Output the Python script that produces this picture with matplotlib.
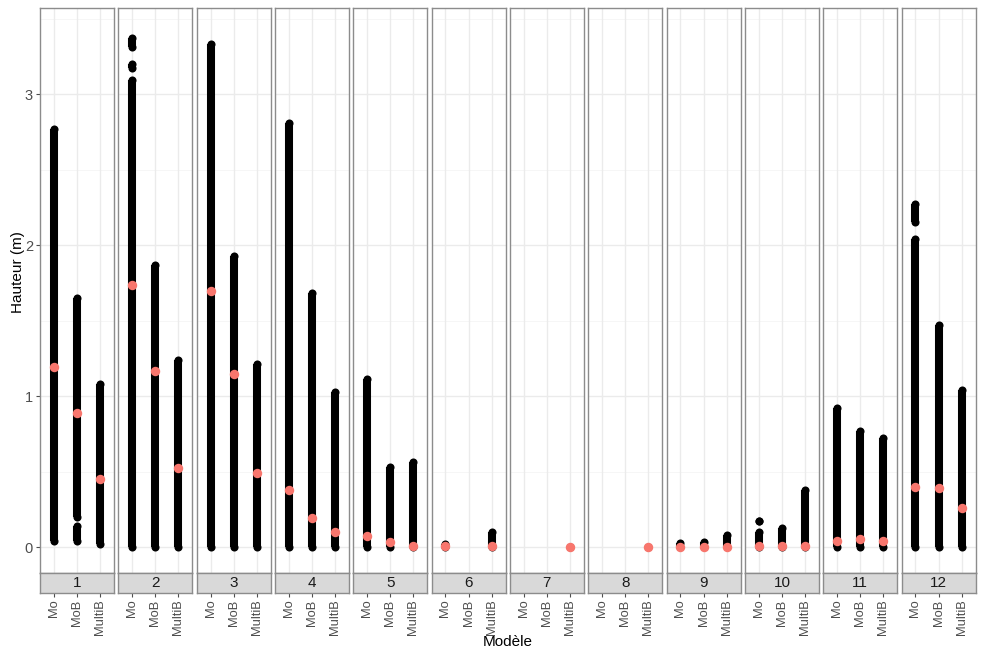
import matplotlib
matplotlib.use("Agg")
import matplotlib.pyplot as plt
import numpy as np

plt.rcParams['font.family'] = ['Liberation Sans', 'DejaVu Sans']

# ---- data ----
panels = ['1', '2', '3', '4', '5', '6', '7', '8', '9', '10', '11', '12']
models = ['Mo', 'MoB', 'MultiB']

# observed value ranges (min, max) of the dense point columns, per panel
seg_mo = [
    [(0.04, 2.77)],
    [(0.0, 3.09), (3.17, 3.20), (3.31, 3.37)],
    [(0.0, 3.33)],
    [(0.0, 2.81)],
    [(0.0, 1.11)],
    [(0.0, 0.02)],
    [],
    [],
    [(0.0, 0.03)],
    [(0.0, 0.10), (0.17, 0.17)],
    [(0.0, 0.92)],
    [(0.0, 2.04), (2.15, 2.27)],
]
seg_mob = [
    [(0.04, 0.14), (0.20, 1.65)],
    [(0.0, 1.87)],
    [(0.0, 1.93)],
    [(0.0, 1.68)],
    [(0.0, 0.53)],
    [],
    [],
    [],
    [(0.0, 0.035)],
    [(0.0, 0.125)],
    [(0.0, 0.77)],
    [(0.0, 1.47)],
]
seg_multib = [
    [(0.02, 1.08)],
    [(0.0, 1.24)],
    [(0.0, 1.21)],
    [(0.0, 1.03)],
    [(0.0, 0.56)],
    [(0.0, 0.10)],
    [(0.0, 0.0)],
    [(0.0, 0.0)],
    [(0.0, 0.08)],
    [(0.0, 0.38)],
    [(0.0, 0.72)],
    [(0.0, 1.04)],
]
nan = np.nan
mean_mo = [1.19, 1.735, 1.695, 0.377, 0.075, 0.01, nan, nan, 0.003, 0.005, 0.04, 0.40]
mean_mob = [0.89, 1.166, 1.146, 0.19, 0.033, nan, nan, nan, 0.003, 0.005, 0.055, 0.39]
mean_multib = [0.45, 0.523, 0.49, 0.10, 0.007, 0.005, 0.0, 0.0, 0.002, 0.005, 0.04, 0.26]

yticks = [0, 1, 2, 3]

# ---- layout ----
W, H = 982, 650
fig = plt.figure(figsize=(W / 100, H / 100), dpi=100)
left, right = 40, 975.5
top, pbot = 8, 573
sbot = 593
gap = 4.4
n = len(panels)
pw = (right - left - gap * (n - 1)) / n

border_col = '#8C8C8C'
grid_major = '#EBEBEB'
grid_minor = '#F5F5F5'
black_lw = 5.8
red = '#F8766D'

segs_all = [seg_mo, seg_mob, seg_multib]
means_all = [mean_mo, mean_mob, mean_multib]

for i, p in enumerate(panels):
    x0 = left + i * (pw + gap)
    ax = fig.add_axes([x0 / W, (H - pbot) / H, pw / W, (pbot - top) / H])
    ax.set_xlim(0.4, 3.6)
    ax.set_ylim(-0.172, 3.57)
    for yv in [0.5, 1.5, 2.5, 3.5]:
        ax.axhline(yv, color=grid_minor, lw=0.6, zorder=0)
    for yv in yticks:
        ax.axhline(yv, color=grid_major, lw=1.0, zorder=0)
    for xv in [1, 2, 3]:
        ax.axvline(xv, color=grid_major, lw=1.0, zorder=0)
    for k in range(3):
        xk = k + 1
        for (a, b) in segs_all[k][i]:
            ax.plot([xk, xk], [a, b], color='black', lw=black_lw,
                    solid_capstyle='butt', zorder=2)
            ax.plot([xk, xk], [a, b], 'o', color='black', ms=black_lw,
                    mew=0, zorder=2)
        mv = means_all[k][i]
        if not np.isnan(mv):
            ax.plot([xk], [mv], 'o', color=red, ms=6.8, mew=0, zorder=3)
    ax.set_xticks([])
    if i == 0:
        ax.set_yticks(yticks)
        ax.set_yticklabels([str(v) for v in yticks], fontsize=10.5, color='#4D4D4D')
        ax.tick_params(axis='y', length=3, width=0.8, color='#4D4D4D', pad=2)
    else:
        ax.set_yticks([])
    for s in ax.spines.values():
        s.set_color(border_col)
        s.set_linewidth(1.0)

    # strip
    sax = fig.add_axes([x0 / W, (H - sbot) / H, pw / W, (sbot - pbot) / H])
    sax.set_facecolor('#D9D9D9')
    sax.set_xlim(0.4, 3.6)
    sax.set_ylim(0, 1)
    sax.set_yticks([])
    sax.text(0.5, 0.5, p, transform=sax.transAxes, ha='center', va='center',
             fontsize=11, color='#1A1A1A')
    for s in sax.spines.values():
        s.set_color(border_col)
        s.set_linewidth(1.0)
    sax.set_xticks([1, 2, 3])
    sax.set_xticklabels(models, rotation=90, fontsize=9.3, color='#4D4D4D')
    sax.tick_params(axis='x', length=3, width=0.8, color='#4D4D4D', pad=1.5)

fig.text((left + right) / 2 / W, 1 - 642 / H, 'Modèle', ha='center', va='center',
         fontsize=11, color='black')
fig.text(18 / W, 1 - 272 / H, 'Hauteur (m)', ha='center', va='center',
         rotation=90, fontsize=11, color='black')

fig.savefig('out.png', dpi=100, facecolor='white')
